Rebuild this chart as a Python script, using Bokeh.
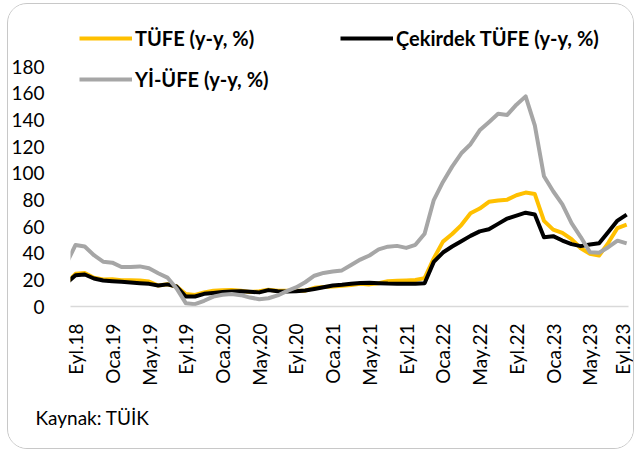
import math
from bokeh.plotting import figure
from bokeh.models import (Range1d, FixedTicker, Legend, LegendItem, Title, ColumnDataSource)
from bokeh.embed import file_html
from bokeh.resources import INLINE

# Month index: -1 = Ağu.18, 0 = Eyl.18 ... 60 = Eyl.23
month_index = list(range(-1, 61))

tick_positions = [0, 4, 8, 12, 16, 20, 24, 28, 32, 36, 40, 44, 48, 52, 56, 60]
tick_labels = ["Eyl.18", "Oca.19", "May.19", "Eyl.19", "Oca.20", "May.20", "Eyl.20",
               "Oca.21", "May.21", "Eyl.21", "Oca.22", "May.22", "Eyl.22", "Oca.23",
               "May.23", "Eyl.23"]

tufe = [17.9, 24.5, 25.2, 21.6, 20.3,
        20.4, 19.7, 19.7, 19.5, 18.7, 15.7, 16.7, 15.0, 9.3, 8.6, 10.6, 11.8,
        12.2, 12.4, 11.9, 10.9, 11.4, 12.6, 11.8, 11.8, 11.8, 11.9, 14.0, 14.6,
        15.0, 15.6, 16.2, 17.1, 16.6, 17.5, 19.0, 19.3, 19.6, 19.9, 21.3, 36.1,
        48.7, 54.4, 61.1, 70.0, 73.5, 78.6, 79.6, 80.2, 83.5, 85.5, 84.4, 64.3,
        57.7, 55.2, 50.5, 43.7, 39.6, 38.2, 47.8, 58.9, 61.5]

cekirdek = [17.5, 23.5, 24.0, 21.0, 19.5,
            19.0, 18.5, 18.0, 17.5, 17.0, 15.7, 16.6, 15.0, 7.5, 7.5, 9.5, 10.2,
            10.8, 11.3, 11.5, 11.0, 10.6, 12.3, 11.4, 11.3, 11.5, 12.0, 13.2, 14.5,
            15.8, 16.3, 17.0, 17.6, 17.8, 17.5, 17.2, 17.1, 17.0, 17.1, 17.5, 33.5,
            40.5, 45.0, 49.0, 53.0, 56.4, 58.0, 62.0, 66.0, 68.2, 70.4, 69.0, 52.0,
            52.8, 49.5, 46.8, 45.3, 46.5, 47.5, 56.0, 64.5, 69.0]

yiufe = [32.1, 46.2, 45.0, 38.5, 33.6,
         32.9, 29.6, 29.6, 30.1, 28.7, 25.0, 21.7, 13.5, 2.5, 1.7, 4.3, 7.4,
         8.8, 9.3, 8.5, 6.7, 5.5, 6.2, 8.3, 11.5, 14.3, 18.2, 23.1, 25.2,
         26.2, 27.1, 31.2, 35.2, 38.3, 42.9, 44.9, 45.5, 44.0, 46.3, 54.6, 79.9,
         93.5, 105.0, 115.0, 121.8, 132.2, 138.3, 144.6, 143.8, 151.5, 157.7, 136.0, 97.7,
         86.5, 76.6, 62.5, 52.1, 40.8, 40.4, 44.5, 49.4, 47.4]

y_ticks = [0, 20, 40, 60, 80, 100, 120, 140, 160, 180]

names = ["TÜFE (y-y, %)", "Çekirdek TÜFE (y-y, %)", "Yİ-ÜFE (y-y, %)"]
colors = ["#FFC000", "#000000", "#A6A6A6"]
source_note = "Kaynak: TÜİK"

FONT = "Lato"

p = figure(width=627, height=446, output_backend="svg", toolbar_location=None,
           x_range=Range1d(-0.55, 60.2), y_range=Range1d(0, 213.15),
           min_border_left=55, min_border_right=7, min_border_top=18, min_border_bottom=144)
p.styles = {"position": "absolute", "left": "7px", "top": "3px",
            "border": "1.5px solid #c8c8c8", "border-radius": "20px", "overflow": "hidden"}
p.outline_line_color = None
p.xgrid.visible = False
p.ygrid.visible = False
p.background_fill_color = "white"
p.border_fill_color = "white"

src = ColumnDataSource(dict(x=month_index, tufe=tufe, cek=cekirdek, ufe=yiufe))
r1 = p.line("x", "tufe", source=src, line_color=colors[0], line_width=4, line_join="round")
r2 = p.line("x", "cek", source=src, line_color=colors[1], line_width=4, line_join="round")
r3 = p.line("x", "ufe", source=src, line_color=colors[2], line_width=4, line_join="round")

# x axis
xa = p.xaxis[0]
xa.ticker = FixedTicker(ticks=tick_positions)
xa.major_label_overrides = {t: l for t, l in zip(tick_positions, tick_labels)}
xa.major_label_orientation = math.pi / 2
xa.axis_line_color = "#d9d9d9"
xa.axis_line_width = 1.5
xa.major_tick_line_color = None
xa.minor_tick_line_color = None
xa.major_label_standoff = 11
xa.major_label_text_font = FONT
xa.major_label_text_font_size = "19px"
xa.major_label_text_color = "#000000"

ya = p.yaxis[0]
ya.ticker = FixedTicker(ticks=y_ticks)
ya.axis_line_color = None
ya.major_tick_line_color = None
ya.minor_tick_line_color = None
ya.major_label_standoff = 20
ya.major_label_text_font = FONT
ya.major_label_text_font_size = "19px"
ya.major_label_text_color = "#000000"

def make_legend(items, loc):
    lg = Legend(items=items, location=loc, orientation="horizontal",
                padding=0, margin=0, spacing=0, glyph_width=53, glyph_height=20,
                label_height=20, label_width=205, label_standoff=3,
                background_fill_alpha=0, border_line_alpha=0,
                label_text_font=FONT, label_text_font_style="bold",
                label_text_font_size="20px", label_text_color="#000000")
    return lg

lg1 = make_legend([LegendItem(label=names[0], renderers=[r1]),
                   LegendItem(label=names[1], renderers=[r2])], (9, 256.5))
lg2 = make_legend([LegendItem(label=names[2], renderers=[r3])], (9, 215.5))
p.add_layout(lg1, "center")
p.add_layout(lg2, "center")

note = Title(text=source_note, align="left", offset=-35, standoff=30,
             text_font=FONT, text_font_size="19px", text_font_style="normal",
             text_color="#000000")
p.add_layout(note, "below")

open("out.html", "w").write(file_html(p, INLINE))
